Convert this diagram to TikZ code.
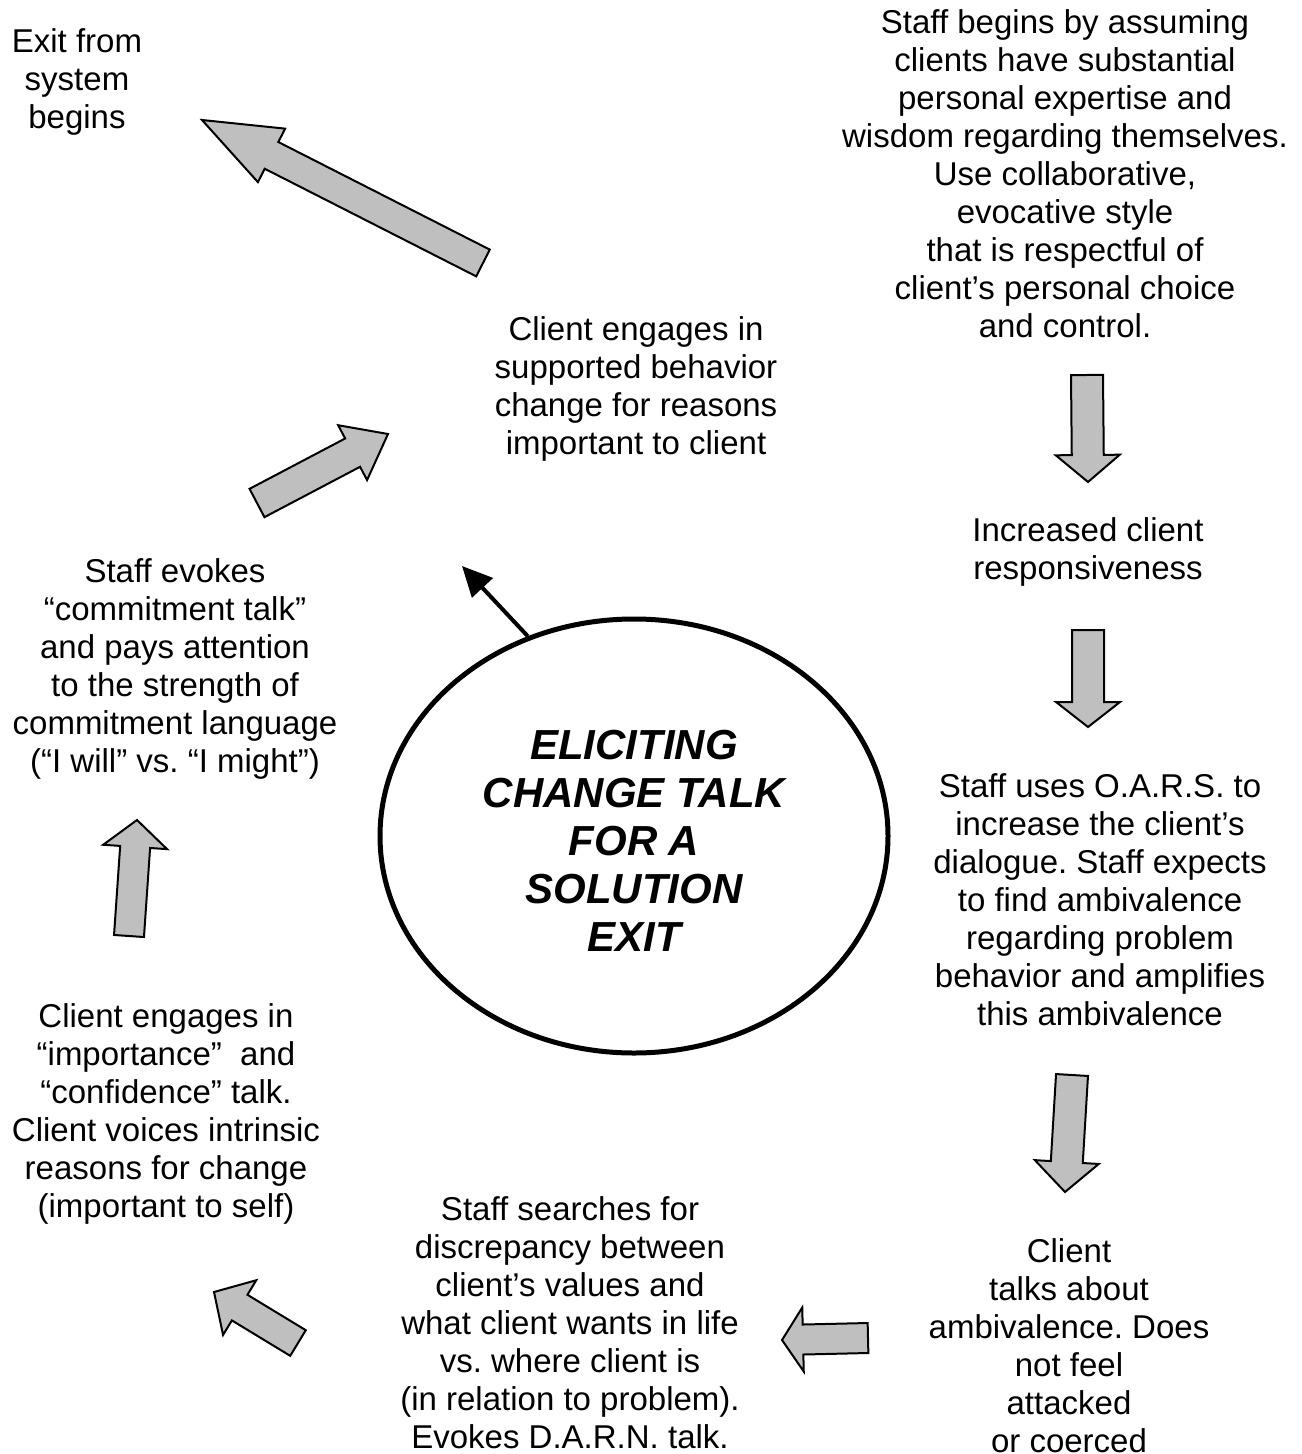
\documentclass[tikz,border=0pt]{standalone}
\usepackage{fontspec}
\setmainfont{Liberation Sans}
\usetikzlibrary{shapes.geometric,arrows.meta}
\frenchspacing
\tikzset{
  txt/.style={align=center, inner sep=0pt, font=\fontsize{16.5}{19}\selectfont},
  ctxt/.style={align=center, inner sep=0pt, font=\fontsize{21}{24}\selectfont\bfseries\itshape},
  barrow/.style={draw=black, fill=black!25, line width=1pt, line join=miter},
  hub/.style={draw=black, ellipse, line width=2.5pt, inner sep=0pt},
  pointer/.style={line width=2pt, -{Triangle[length=15pt,width=14pt]}},
}
% tail x, tail y, tip x, tip y, shaft half width, head half width, head length
\newcommand\blockarrow[7]{%
  \pgfmathsetmacro\baang{atan2((#4)-(#2),(#3)-(#1))}%
  \pgfmathsetmacro\balen{veclen((#3)-(#1),(#4)-(#2))}%
  \begin{scope}[shift={(#1,#2)},rotate=\baang]
    \draw[barrow] (0,-#5) -- (\balen-#7,-#5) -- (\balen-#7,-#6) -- (\balen,0)
      -- (\balen-#7,#6) -- (\balen-#7,#5) -- (0,#5) -- cycle;
  \end{scope}}
\begin{document}
\begin{tikzpicture}[x=0.5pt,y=0.5pt]
\useasboundingbox (0,0) rectangle (1301,-1454);
\fill[white] (0,0) rectangle (1301,-1454);

% text blocks
\node[txt] (exit) at (77,-82) {Exit from\\system\\begins};
\node[txt] (staffbegins) at (1065,-174) {Staff begins by assuming\\clients have substantial\\personal expertise and\\wisdom regarding themselves.\\Use collaborative,\\evocative style\\that is respectful of\\client’s personal choice\\and control.};
\node[txt] (engages) at (636,-389) {Client engages in\\supported behavior\\change for reasons\\important to client};
\node[txt] (increased) at (1088,-552) {Increased client\\responsiveness};
\node[txt] (oars) at (1100,-900) {Staff uses O.A.R.S. to\\increase the client’s\\dialogue. Staff expects\\to find ambivalence\\regarding problem\\behavior and amplifies\\this ambivalence};
\node[txt] (ambiv) at (1069,-1346) {Client\\talks about\\ambivalence. Does\\not feel\\attacked\\or coerced};
\node[txt] (searches) at (570,-1323) {Staff searches for\\discrepancy between\\client’s values and\\what client wants in life\\vs. where client is\\(in relation to problem).\\Evokes D.A.R.N. talk.};
\node[txt] (importance) at (166,-1114) {Client engages in\\“importance”\ \ and\\“confidence” talk.\\Client voices intrinsic\\reasons for change\\(important to self)};
\node[txt] (commit) at (175,-669) {Staff evokes\\“commitment talk”\\and pays attention\\to the strength of\\commitment language\\(“I will” vs. “I might”)};

% central ellipse
\node[hub, minimum width=254pt, minimum height=217pt] (circ) at (634,-836) {};
\node[ctxt] (ctitle) at (634,-841) {ELICITING\\CHANGE TALK\\FOR A\\SOLUTION\\EXIT};
\coordinate (btip) at (462,-566);
\draw[pointer] (circ.118) -- (btip);

% block arrows
\blockarrow{483}{-263}{202}{-120}{15}{30}{78}
\blockarrow{257}{-503}{388}{-434}{16}{31}{40}
\blockarrow{1087}{-375}{1088}{-482}{16}{32}{27}
\blockarrow{1088}{-630}{1088}{-727}{16}{32}{25}
\blockarrow{1072}{-1075}{1065}{-1192}{16}{32}{30}
\blockarrow{868}{-1338}{782}{-1340}{15}{32}{21}
\blockarrow{298}{-1343}{214}{-1292}{15}{32}{30}
\blockarrow{129}{-936}{137}{-820}{15}{32}{27}
\end{tikzpicture}
\end{document}
